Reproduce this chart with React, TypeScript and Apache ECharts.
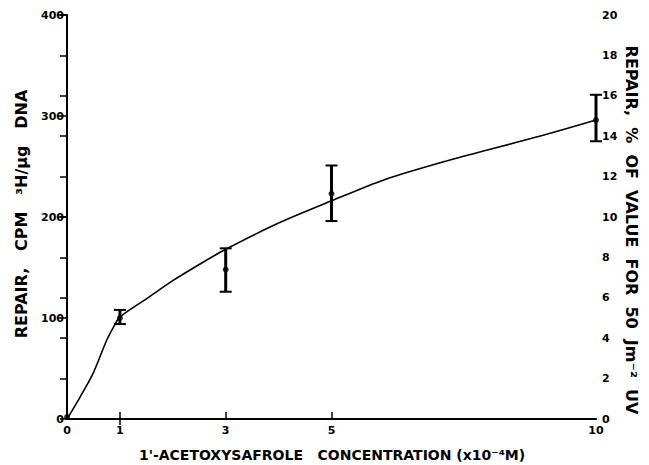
import React, { useEffect, useRef } from "react";
import * as echarts from "echarts";

// Measured points (concentration x10^-4 M vs repair CPM 3H/ug DNA)
const conc = [0, 1, 3, 5, 10];
const meanCpm = [2, 100, 148, 223, 296];
const lowCpm = [2, 94, 126, 196, 275];
const highCpm = [2, 108, 169, 251, 321];

// Hand-drawn fitted curve
const curveX = [0, 0.25, 0.5, 0.75, 0.9, 1, 1.5, 2, 2.5, 3, 4, 5, 6, 7, 8, 9, 10];
const curveY = [0, 22, 46, 78, 93, 101, 119, 137, 153, 168, 194, 216, 237, 253, 267, 281, 296];

const xLabelValues = [0, 1, 3, 5, 10];
const xTickValues = [1, 3, 5];
const leftTickValues = [100, 200, 300, 400];

const FONT = '"DejaVu Sans", Verdana, sans-serif';

export default function App() {
  const ref = useRef<HTMLDivElement>(null);
  useEffect(() => {
    document.body.style.margin = "0";
    const chart = echarts.init(ref.current!, null, { renderer: "svg" });
    const errData = conc
      .map((c, i) => [c, lowCpm[i], highCpm[i]])
      .filter((d) => d[2] - d[1] > 0);
    const tickLabel = { color: "#000", fontFamily: FONT, fontWeight: "bold", fontSize: 11 };
    chart.setOption({
      animation: false,
      backgroundColor: "#fff",
      grid: { left: 67, right: 53, top: 15, bottom: 46 },
      xAxis: [
        {
          type: "value",
          min: 0,
          max: 10,
          interval: 1,
          position: "bottom",
          splitLine: { show: false },
          axisLine: { lineStyle: { color: "#000", width: 2 } },
          axisTick: { customValues: xTickValues, inside: true, length: 7, lineStyle: { color: "#000", width: 1.5 } },
          axisLabel: { ...tickLabel, customValues: xLabelValues, margin: 6 },
        },
        {
          type: "value",
          min: 0,
          max: 10,
          interval: 1,
          position: "top",
          splitLine: { show: false },
          axisLine: { lineStyle: { color: "#000", width: 1.5 } },
          axisTick: { customValues: [1], inside: true, length: 6, lineStyle: { color: "#000", width: 1.5 } },
          axisLabel: { show: false },
        },
      ],
      yAxis: [
        {
          type: "value",
          min: 0,
          max: 400,
          interval: 100,
          position: "left",
          splitLine: { show: false },
          axisLine: { show: true, lineStyle: { color: "#000", width: 2 } },
          axisTick: { show: true, customValues: leftTickValues, length: 9, lineStyle: { color: "#000", width: 1.5 } },
          axisLabel: { ...tickLabel, margin: 3 },
        },
        {
          type: "value",
          min: 0,
          max: 20,
          interval: 2,
          position: "right",
          splitLine: { show: false },
          axisLine: { show: true, lineStyle: { color: "#000", width: 2 } },
          axisTick: { show: true, inside: true, length: 7, lineStyle: { color: "#000", width: 1.5 } },
          axisLabel: { ...tickLabel, margin: 6 },
        },
      ],
      series: [
        {
          type: "line",
          data: curveX.map((x, i) => [x, curveY[i]]),
          smooth: 0.3,
          showSymbol: false,
          lineStyle: { color: "#000", width: 1.6 },
          z: 2,
        },
        {
          type: "custom",
          data: errData,
          encode: { x: 0, y: [1, 2] },
          renderItem: (params: any, api: any) => {
            const x = api.value(0);
            const lo = api.coord([x, api.value(1)]);
            const hi = api.coord([x, api.value(2)]);
            const w = 6;
            return {
              type: "group",
              children: [
                { type: "line", shape: { x1: lo[0], y1: lo[1], x2: hi[0], y2: hi[1] }, style: { stroke: "#000", lineWidth: 3 } },
                { type: "line", shape: { x1: lo[0] - w, y1: lo[1], x2: lo[0] + w, y2: lo[1] }, style: { stroke: "#000", lineWidth: 2 } },
                { type: "line", shape: { x1: hi[0] - w, y1: hi[1], x2: hi[0] + w, y2: hi[1] }, style: { stroke: "#000", lineWidth: 2 } },
              ],
            };
          },
          z: 3,
        },
        {
          type: "scatter",
          data: conc.map((c, i) => [c, meanCpm[i]]),
          symbol: "circle",
          symbolSize: 6,
          itemStyle: { color: "#000" },
          z: 4,
        },
      ],
      graphic: [
        {
          type: "text",
          x: 21,
          y: 214,
          rotation: Math.PI / 2,
          style: {
            text: "REPAIR,   CPM   ³H/µg   DNA",
            fontFamily: FONT,
            fontWeight: "bold",
            fontSize: 16,
            fill: "#000",
            align: "center",
            verticalAlign: "middle",
          },
        },
        {
          type: "text",
          x: 631,
          y: 230,
          rotation: -Math.PI / 2,
          style: {
            text: "REPAIR,  %  OF  VALUE  FOR  50  Jm⁻²  UV",
            fontFamily: FONT,
            fontWeight: "bold",
            fontSize: 16,
            fill: "#000",
            align: "center",
            verticalAlign: "middle",
          },
        },
        {
          type: "text",
          x: 332,
          y: 455,
          style: {
            text: "1'-ACETOXYSAFROLE   CONCENTRATION (x10⁻⁴M)",
            fontFamily: FONT,
            fontWeight: "bold",
            fontSize: 14,
            fill: "#000",
            align: "center",
            verticalAlign: "middle",
          },
        },
      ],
    });
    return () => chart.dispose();
  }, []);
  return <div ref={ref} style={{ width: 649, height: 465 }} />;
}
